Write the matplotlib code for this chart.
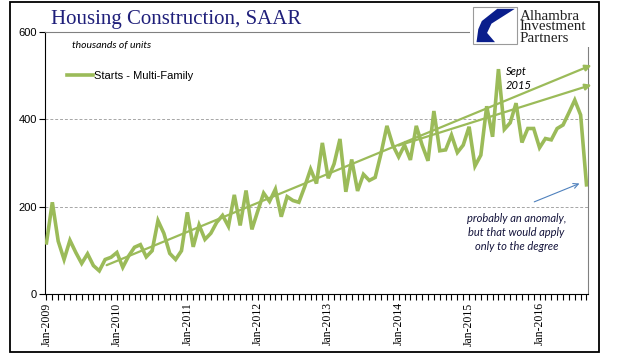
import matplotlib
matplotlib.use("Agg")
import numpy as np
import matplotlib.pyplot as plt
from matplotlib.patches import Rectangle, Polygon

# monthly multi-family starts, Jan-2009 .. Sep-2016 (thousands, SAAR)
starts = [117, 210, 121, 79, 123, 95, 70, 92, 65, 53, 79, 84,
          95, 61, 87, 107, 113, 85, 99, 168, 139, 93, 79, 99,
          187, 108, 158, 125, 139, 164, 180, 155, 227, 157, 237, 148,
          190, 231, 212, 240, 177, 223, 214, 210, 246, 286, 253, 346,
          265, 298, 355, 234, 308, 236, 274, 260, 267, 322, 385, 341,
          314, 341, 307, 385, 341, 305, 419, 328, 330, 364, 324, 341,
          383, 293, 318, 430, 360, 515, 377, 392, 437, 347, 379, 379,
          335, 356, 353, 379, 387, 415, 444, 410, 250]
years = [2009, 2010, 2011, 2012, 2013, 2014, 2015, 2016]
year_labels = ["Jan-%d" % y for y in years]

# hand-drawn trend arrows (month index, value)
trend_long = [(10.25, 66), (92.85, 524)]
trend_short = [(60.0, 340), (92.85, 479)]
anomaly_arrow = [(83.1, 211), (90.8, 253)]

green = "#9bbb59"
x = np.arange(len(starts))

fig = plt.figure(figsize=(6.18, 3.61), dpi=100)
ax = fig.add_axes([0.0728, 0.1856, 0.8786, 0.7258])

ax.plot(x, starts, color=green, lw=2.6, solid_joinstyle="miter",
        label="Starts - Multi-Family", zorder=3)

for (x0, y0), (x1, y1) in [trend_long, trend_short]:
    ax.annotate("", xy=(x1, y1), xytext=(x0, y0), annotation_clip=False,
                arrowprops=dict(arrowstyle="-|>", color=green, lw=1.6,
                                mutation_scale=9, shrinkA=0, shrinkB=0), zorder=4)

(ax0, ay0), (ax1, ay1) = anomaly_arrow
ax.annotate("", xy=(ax1, ay1), xytext=(ax0, ay0),
            arrowprops=dict(arrowstyle="->", color="#4f81bd", lw=0.8,
                            mutation_scale=9, shrinkA=0, shrinkB=0))

ax.text(78.3, 522, "Sept\n2015", ha="left", va="top", fontsize=8,
        style="italic", family="Lato", linespacing=1.3)
ax.text(80.1, 186, "probably an anomaly,\nbut that would apply\nonly to the degree",
        ha="center", va="top", fontsize=8, style="italic", family="Lato",
        color="#14143c", linespacing=1.35)

ax.set_xlim(-0.25, 92.25)
ax.set_ylim(0, 600)
ax.set_yticks([0, 200, 400, 600])
ax.set_yticklabels(["0", "200", "400", "600"], family="Liberation Sans", fontsize=8)
ax.set_xticks([12 * i for i in range(len(years))])
ax.set_xticklabels(year_labels, rotation=90, family="Liberation Serif", fontsize=8.5)
ax.set_xticks(x, minor=True)
ax.tick_params(axis="both", which="both", direction="out", length=4, width=0.8, pad=2)

for v in [200, 400]:
    ax.axhline(v, color="#a6a6a6", lw=0.7, ls=(0, (3, 2)), zorder=1)

ax.spines["left"].set_color("black")
ax.spines["bottom"].set_color("black")
ax.spines["top"].set_color("#808080")
ax.spines["right"].set_color("#808080")

ax.legend(loc="upper left", bbox_to_anchor=(0.04, 0.85), frameon=False,
          prop={"family": "Liberation Sans", "size": 8},
          handlelength=2.4, handletextpad=0.1, borderpad=0, borderaxespad=0)
ax.text(0.05, 0.95, "thousands of units", transform=ax.transAxes, ha="left",
        va="center", fontsize=7.5, style="italic", family="Lato")

fig.text(0.2856, 0.947, "Housing Construction, SAAR", ha="center", va="center",
         fontsize=15, family="Liberation Serif", color="#1f1f7a")

# logo
fig.patches.append(Rectangle((470 / 618, 1 - 47 / 361), 125 / 618, 44 / 361,
                             transform=fig.transFigure, facecolor="white",
                             edgecolor="none", zorder=5))
lx, ly, lw_, lh = 473 / 618, 1 - 44 / 361, 44 / 618, 37 / 361
fig.patches.append(Rectangle((lx, ly), lw_, lh, transform=fig.transFigure,
                             facecolor="white", edgecolor="#9a9a9a", lw=0.8, zorder=6))
shape = [(0.08, 0.05), (0.5, 0.05), (0.32, 0.3), (0.42, 0.55), (0.95, 0.95),
         (0.55, 0.95), (0.2, 0.62), (0.12, 0.4)]
fig.patches.append(Polygon([(lx + px * lw_, ly + py * lh) for px, py in shape],
                           closed=True, transform=fig.transFigure,
                           facecolor="#0a1e8c", edgecolor="none", zorder=7))
fig.text(520 / 618, 1 - 27 / 361, "Alhambra\nInvestment\nPartners", ha="left",
         va="center", fontsize=10.8, family="Liberation Serif", color="#222222",
         linespacing=0.8, zorder=8)

# outer frame
fig.patches.append(Rectangle((10 / 618, 1 - 352 / 361), 589 / 618, 350 / 361,
                             transform=fig.transFigure, facecolor="none",
                             edgecolor="black", lw=1.3, zorder=9))

fig.savefig("out.png", dpi=100)
